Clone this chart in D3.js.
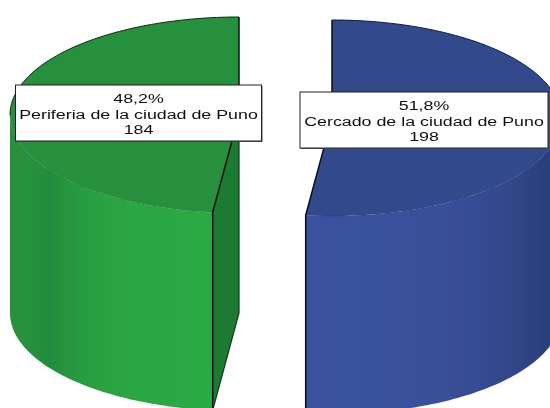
<!DOCTYPE html>
<html><head><meta charset="utf-8">
<script src="https://cdn.jsdelivr.net/npm/d3@7"></script>
<style>html,body{margin:0;padding:0;background:#fff;overflow:hidden}svg{display:block}</style>
</head><body>
<script>
const categories = ["Cercado de la ciudad de Puno", "Periferia de la ciudad de Puno"];
const counts = [198, 184];
const percents = ["51,8%", "48,2%"];

const W = 550, H = 408;
const layout = [
  {cx: 332, cy: 118, top: "#30488c", side: "bSide", box: [300, 92, 248, 56], textX: 424},
  {cx: 239, cy: 115, top: "#26903e", side: "gSide", box: [15.5, 85, 246, 56], textX: 138.5}
];
const rx = 229, ry = 98, depth = 198;

const svg = d3.select("body").append("svg").attr("width", W).attr("height", H);
const defs = svg.append("defs");
defs.append("clipPath").attr("id", "page").append("rect").attr("width", W).attr("height", H);
defs.append("filter").attr("id", "soft").append("feGaussianBlur").attr("stdDeviation", 0.4);
function grad(id, x1, x2, stops) {
  const g = defs.append("linearGradient").attr("id", id).attr("gradientUnits", "userSpaceOnUse")
    .attr("x1", x1).attr("x2", x2).attr("y1", 0).attr("y2", 0);
  stops.forEach(s => g.append("stop").attr("offset", s[0]).attr("stop-color", s[1]));
}
grad("gSide", 10, 213, [[0, "#26923e"], [0.2, "#248e3c"], [0.4, "#28a041"], [0.6, "#2aa644"], [1, "#2baa45"]]);
grad("bSide", 305, 550, [[0, "#3a539f"], [0.55, "#395099"], [0.75, "#344a90"], [0.9, "#2f4484"], [1, "#2b3e78"]]);

const pie = d3.pie().sort(null)(counts);
const line = d3.line();
const pt = (s, a, dy = 0) => [s.cx + rx * Math.sin(a), s.cy - ry * Math.cos(a) + dy];
const arcPts = (s, a0, a1, dy = 0) => {
  const n = 80;
  return d3.range(n + 1).map(i => pt(s, a0 + (a1 - a0) * i / n, dy));
};

const g = svg.append("g").attr("clip-path", "url(#page)");
const art = g.append("g").attr("filter", "url(#soft)");
pie.forEach((d, i) => {
  const s = layout[i];
  const a0 = d.startAngle, a1 = d.endAngle;
  const vis0 = Math.max(a0, Math.PI / 2), vis1 = Math.min(a1, 3 * Math.PI / 2);
  const c = [s.cx, s.cy];
  const edge = i === 0 ? pt(s, a1) : pt(s, a0);

  if (i === 1) {
    art.append("path").attr("d", line([c, edge, [edge[0], edge[1] + depth], [c[0], c[1] + depth]]) + "Z")
      .attr("fill", "#1c7a30").attr("stroke", "none");
    art.append("path").attr("d", line([c, [c[0], c[1] + depth], [edge[0], edge[1] + depth]]))
      .attr("fill", "none").attr("stroke", "#0d3d18").attr("stroke-width", 1.2);
  }
  const wallTop = arcPts(s, vis0, vis1), wallBot = arcPts(s, vis1, vis0, depth);
  art.append("path").attr("d", line(wallTop.concat(wallBot)) + "Z")
    .attr("fill", `url(#${s.side})`).attr("stroke", "none");
  art.append("path").attr("d", line([c].concat(arcPts(s, a0, a1))) + "Z")
    .attr("fill", s.top).attr("stroke", "none");
  const dark = i === 1 ? "#0a2a12" : "#0b1a3e";
  const outer = i === 1 ? arcPts(s, Math.PI * 1.5, a1) : arcPts(s, 0, Math.PI / 2);
  art.append("path").attr("d", line(outer)).attr("fill", "none").attr("stroke", dark).attr("stroke-width", 1);
  art.append("path").attr("d", line(arcPts(s, vis0, vis1))).attr("fill", "none").attr("stroke", dark)
    .attr("stroke-width", 0.5).attr("stroke-opacity", 0.3);
  art.append("path").attr("d", line([[s.cx, s.cy - ry], c, edge, [edge[0], edge[1] + depth]]))
    .attr("fill", "none").attr("stroke", "#0a0f14").attr("stroke-width", 1.5);
});

pie.forEach((d, i) => {
  const s = layout[i], [x, y, w, h] = s.box;
  svg.append("rect").attr("x", x + 1).attr("y", y + 1).attr("width", w).attr("height", h).attr("fill", "#555");
  svg.append("rect").attr("x", x).attr("y", y).attr("width", w).attr("height", h)
    .attr("fill", "#fff").attr("stroke", "#222").attr("stroke-width", 1);
  const lines = [percents[i], categories[i], counts[i]];
  svg.append("g").attr("filter", "url(#soft)").selectAll("text").data(lines).join("text")
    .attr("transform", (t, j) => `translate(${s.textX},${y + 18 + j * 15.5}) scale(1.32,1)`)
    .attr("text-anchor", "middle").attr("font-family", "'Liberation Sans', Arial, sans-serif")
    .attr("font-size", 13.5).attr("fill", "#111").text(t => t);
});
</script>
</body></html>
